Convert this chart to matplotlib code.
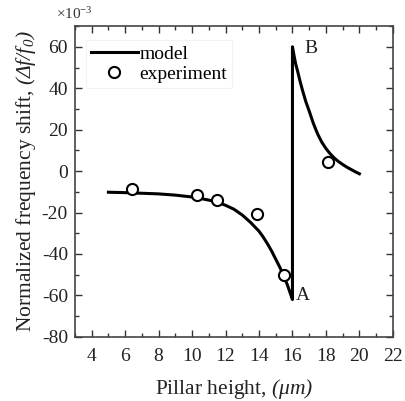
import matplotlib
matplotlib.use("Agg")
import matplotlib.pyplot as plt
from matplotlib.ticker import MultipleLocator

plt.rcParams['font.family'] = ['Liberation Serif', 'DejaVu Serif']
plt.rcParams['mathtext.fontset'] = 'custom'
plt.rcParams['mathtext.rm'] = 'Liberation Serif'
plt.rcParams['mathtext.it'] = 'Liberation Serif:italic'
# \mathcal used as a "fully italic" font (it keeps Greek capitals and brackets slanted)
plt.rcParams['mathtext.cal'] = 'Liberation Serif:italic'
plt.rcParams['axes.unicode_minus'] = False

# model curve, units of 1e-3
model_x = [5.0, 6.0, 7.0, 8.0, 9.0, 10.0, 10.5, 11.0, 11.5, 12.0, 12.5, 13.0, 13.5,
           14.0, 14.25, 14.5, 14.75, 15.0, 15.25, 15.5, 15.7, 15.85, 16.0,
           16.0, 16.1, 16.2, 16.3, 16.45, 16.6, 16.8, 17.0, 17.25, 17.5, 17.75,
           18.0, 18.25, 18.5, 18.75, 19.0, 19.25, 19.5, 19.75, 20.0]
model_y = [-10.2, -10.4, -10.7, -11.0, -11.6, -12.5, -13.2, -14.0, -15.0, -16.5, -18.4, -21.2, -24.8,
           -29.0, -31.8, -35.0, -38.5, -42.5, -46.5, -51.0, -55.0, -58.5, -62.0,
           60.0, 55.5, 51.5, 48.5, 43.5, 39.0, 33.5, 29.0, 23.0, 18.0, 14.0,
           10.9, 8.4, 6.3, 4.6, 3.2, 1.9, 0.8, -0.3, -1.3]

# experiment points
exp_x = [6.4, 10.3, 11.5, 13.9, 15.5, 18.1]
exp_y = [-8.7, -11.6, -13.8, -20.5, -50.3, 4.5]

xticks = [4, 6, 8, 10, 12, 14, 16, 18, 20, 22]
yticks = [-80, -60, -40, -20, 0, 20, 40, 60]

fig = plt.figure(figsize=(4.05, 4.01), dpi=100)
ax = fig.add_axes([0.185, 0.16, 0.785, 0.775])

ax.plot(model_x, model_y, color='black', lw=2.2, label='model', zorder=2)
ax.plot(exp_x, exp_y, 'o', ms=8, mfc='white', mec='black', mew=1.5,
        label='experiment', zorder=3)

ax.text(16.7, 59, 'B', fontsize=14, ha='left', va='center', color='#222222')
ax.text(16.2, -60, 'A', fontsize=14, ha='left', va='center', color='#222222')

ax.set_xlim(3, 22)
ax.set_ylim(-80, 70)
ax.set_xticks(xticks)
ax.set_yticks(yticks)
ax.xaxis.set_minor_locator(MultipleLocator(1))
ax.yaxis.set_minor_locator(MultipleLocator(10))
ax.tick_params(which='both', direction='in', top=True, right=True,
               labelsize=14, colors='#333333', labelcolor='#222222')
ax.tick_params(which='major', length=5, width=1)
ax.tick_params(which='minor', length=3, width=1)
ax.tick_params(axis='x', pad=8)
ax.tick_params(axis='y', pad=5)
for s in ax.spines.values():
    s.set_color('#444444')
    s.set_linewidth(1.2)

ax.set_xlabel(r'Pillar height, $\mathcal{(\mu m)}$', fontsize=15.5, color='#222222', labelpad=9)
ax.set_ylabel(r'Normalized frequency shift, $\mathcal{(\Delta f/f_0)}$', fontsize=15.5,
              color='#222222', labelpad=3)
ax.text(0.0, 1.012, r'$\times10^{-3}$', transform=ax.transAxes, fontsize=11,
        ha='center', va='bottom', color='#333333')

leg = ax.legend(loc='upper left', fontsize=14, frameon=True, handlelength=2.4,
                handletextpad=0.1, borderpad=0.25, labelspacing=0.15,
                bbox_to_anchor=(0.035, 0.955), fancybox=False, borderaxespad=0)
leg.get_frame().set_edgecolor('#f0f0f0')
leg.get_frame().set_linewidth(0.8)

fig.savefig('out.png', dpi=100)
